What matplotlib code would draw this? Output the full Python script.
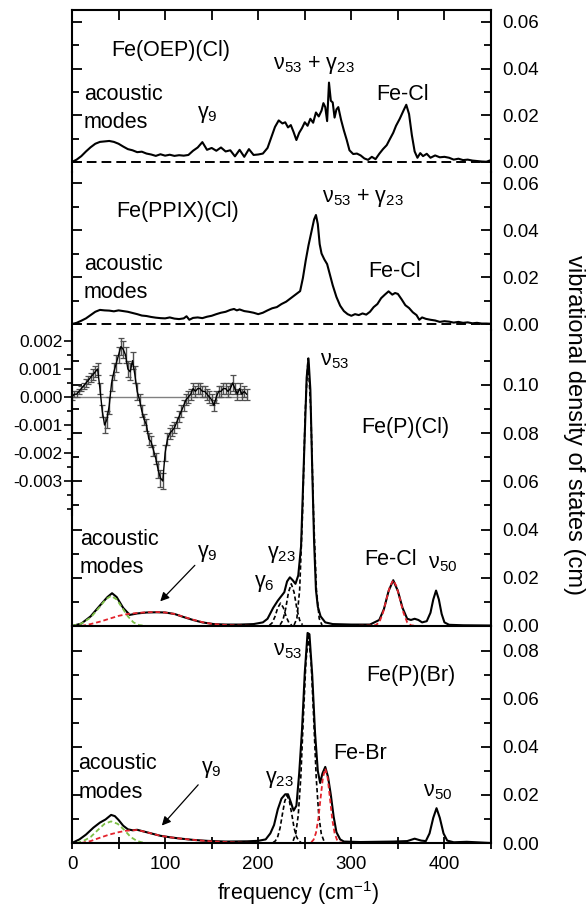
import matplotlib
matplotlib.use("Agg")
import matplotlib.pyplot as plt
from matplotlib.ticker import MultipleLocator, FixedLocator

plt.rcParams['font.family'] = ['Liberation Sans', 'DejaVu Sans']
plt.rcParams['mathtext.fontset'] = 'custom'
plt.rcParams['mathtext.rm'] = 'Liberation Sans'
plt.rcParams['mathtext.it'] = 'Liberation Sans:italic'
plt.rcParams['mathtext.bf'] = 'Liberation Sans:bold'

# ---- Fe(OEP)(Cl) ----
oep_x = [0, 5, 10, 15, 20, 25, 30, 35, 40, 45, 50, 55, 60, 65, 70, 75, 80, 85, 90, 95, 100, 105, 110, 115, 120,
         125, 130, 135, 140, 145, 150, 155, 160, 165, 170, 175, 180, 185, 190, 195, 200, 205, 210, 214, 218, 222,
         226, 229, 232, 235, 238, 241, 244, 247, 250, 253, 256, 259, 262, 265, 268, 270, 272, 274, 276, 278, 280,
         282, 284, 286, 289, 292, 295, 298, 302, 306, 310, 314, 318, 322, 326, 330, 334, 338, 341, 345, 348, 352,
         356, 359, 362, 365, 368, 371, 374, 377, 381, 385, 390, 395, 400, 405, 410, 415, 420, 425, 430, 435, 440,
         445, 450]
oep_y = [0.0, 0.001, 0.0025, 0.0045, 0.0063, 0.0078, 0.0086, 0.0088, 0.009, 0.0086, 0.0078, 0.0066, 0.0055, 0.005,
         0.0042, 0.0044, 0.0036, 0.0032, 0.0026, 0.0033, 0.0027, 0.0031, 0.0026, 0.0029, 0.0027, 0.003, 0.0048,
         0.0062, 0.0085, 0.0052, 0.006, 0.0048, 0.0062, 0.0045, 0.005, 0.0024, 0.0052, 0.0022, 0.0055, 0.003,
         0.0032, 0.0036, 0.006, 0.0105, 0.015, 0.0178, 0.0165, 0.017, 0.0148, 0.0158, 0.0128, 0.0094, 0.0125,
         0.0145, 0.017, 0.0155, 0.0185, 0.0168, 0.0212, 0.0195, 0.022, 0.0252, 0.0235, 0.0175, 0.034, 0.0262,
         0.0255, 0.019, 0.0225, 0.0235, 0.018, 0.0135, 0.0095, 0.005, 0.0034, 0.0036, 0.0028, 0.0015, 0.0009,
         0.0022, 0.0012, 0.0035, 0.0055, 0.0072, 0.0095, 0.0125, 0.0155, 0.0185, 0.022, 0.0245, 0.0205, 0.0115,
         0.0045, 0.0018, 0.0038, 0.0025, 0.0035, 0.0018, 0.0028, 0.002, 0.0022, 0.0018, 0.001, 0.0014, 0.0008,
         0.001, 0.0006, 0.0004, 0.0002, 0.0001, 0.0008]

# ---- Fe(PPIX)(Cl) ----
ppix_x = [0, 5, 10, 15, 20, 25, 30, 35, 40, 45, 50, 55, 60, 65, 70, 75, 80, 85, 90, 95, 100, 105, 110, 115, 120,
          123, 126, 130, 135, 140, 145, 150, 155, 160, 165, 170, 174, 177, 180, 185, 190, 195, 200, 205, 210, 215,
          220, 225, 230, 235, 240, 245, 248, 251, 254, 257, 260, 262, 264, 266, 268, 271, 274, 277, 280, 284, 288,
          292, 296, 300, 304, 308, 312, 316, 320, 324, 328, 332, 336, 340, 344, 347, 350, 354, 358, 362, 366, 370,
          373, 376, 380, 385, 390, 395, 400, 405, 410, 415, 420, 425, 430, 435, 440, 445, 450]
ppix_y = [0.0, 0.0005, 0.0014, 0.0024, 0.0038, 0.0052, 0.006, 0.0058, 0.0057, 0.0054, 0.0058, 0.0055, 0.0052,
          0.0047, 0.0042, 0.0036, 0.0034, 0.003, 0.0027, 0.0025, 0.0024, 0.0028, 0.0023, 0.0021, 0.0024, 0.0033,
          0.0018, 0.0026, 0.0028, 0.0025, 0.0031, 0.0035, 0.0042, 0.0048, 0.0052, 0.006, 0.0064, 0.0058, 0.0062,
          0.0055, 0.0052, 0.0048, 0.0042, 0.0048, 0.0058, 0.0067, 0.0072, 0.0085, 0.0095, 0.011, 0.0125, 0.014,
          0.0196, 0.027, 0.0335, 0.039, 0.0445, 0.0464, 0.0425, 0.034, 0.030, 0.0275, 0.0255, 0.021, 0.0165,
          0.0115, 0.0078, 0.0055, 0.0042, 0.0035, 0.0042, 0.0038, 0.0045, 0.004, 0.0052, 0.0072, 0.0085, 0.011,
          0.0125, 0.0139, 0.0125, 0.0132, 0.0128, 0.0105, 0.008, 0.0068, 0.005, 0.0038, 0.0018, 0.0028, 0.0022,
          0.0018, 0.0015, 0.0009, 0.0012, 0.001, 0.0006, 0.0009, 0.0005, 0.0007, 0.0003, 0.0005, 0.0002, 0.0002,
          0.0001]

# ---- Fe(P)(Cl) ----
pcl_x = [0, 10, 20, 30, 38, 43, 48, 55, 62, 70, 80, 91, 100, 110, 120, 130, 140, 152, 165, 180, 195, 205, 210, 216,
         221, 225, 228, 231, 234, 237, 240, 243, 246, 249, 252, 254, 256, 258, 260, 262, 264, 267, 272, 280, 300, 320,
         330, 335, 340, 345, 350, 355, 360, 364, 368, 372, 376, 381, 385, 388, 391, 394, 397, 400, 405, 420, 450]
pcl_y = [0.0, 0.001, 0.004, 0.0085, 0.012, 0.0136, 0.012, 0.0075, 0.0046, 0.0052, 0.0056, 0.0057, 0.0056, 0.005,
         0.0037, 0.0025, 0.0015, 0.0008, 0.0006, 0.0006, 0.0008, 0.0015, 0.003, 0.0075, 0.0105, 0.0125, 0.014,
         0.0185, 0.0202, 0.019, 0.0175, 0.021, 0.033, 0.068, 0.103, 0.111, 0.098, 0.065, 0.035, 0.015, 0.008,
         0.004, 0.0015, 0.0008, 0.0006, 0.0006, 0.0025, 0.007, 0.0145, 0.019, 0.0145, 0.0075, 0.003, 0.0025,
         0.003, 0.0025, 0.0015, 0.002, 0.0055, 0.011, 0.0147, 0.011, 0.005, 0.0015, 0.0005, 0.0003, 0.0002]
# fitted components
pcl_ac_x = [0, 10, 20, 30, 36, 42, 48, 54, 60, 66, 72, 80]
pcl_ac_y = [0.0, 0.001, 0.0035, 0.008, 0.011, 0.0125, 0.011, 0.0075, 0.004, 0.0015, 0.0004, 0.0]
pcl_g9_x = [10, 20, 30, 40, 50, 60, 70, 80, 91, 100, 110, 120, 130, 140, 150, 165, 180, 200]
pcl_g9_y = [0.0, 0.0008, 0.0018, 0.003, 0.0042, 0.005, 0.0054, 0.0057, 0.0058, 0.0056, 0.005, 0.0038, 0.0026,
            0.0016, 0.0009, 0.0004, 0.0002, 0.0]
pcl_g6_x = [212, 215, 218, 221, 224, 227, 230, 233, 236]
pcl_g6_y = [0.0003, 0.0013, 0.0039, 0.0076, 0.0095, 0.0076, 0.0039, 0.0013, 0.0003]
pcl_g23_x = [223.5, 226.5, 229.5, 232.5, 235.5, 238.5, 241.5, 244.5, 247.5]
pcl_g23_y = [0.0005, 0.0024, 0.0072, 0.014, 0.0175, 0.014, 0.0072, 0.0024, 0.0005]
pcl_n53_x = [238.5, 241.5, 244.5, 247.5, 250.5, 253.5, 256.5, 259.5, 262.5, 265.5, 268.5]
pcl_n53_y = [0.0004, 0.0031, 0.015, 0.0455, 0.089, 0.111, 0.089, 0.0455, 0.015, 0.0031, 0.0004]
pcl_fecl_x = [300, 326, 330, 334, 338, 341.5, 345, 348.5, 352, 356, 360, 364, 370, 450]
pcl_fecl_y = [0.0, 0.0003, 0.0015, 0.0055, 0.0115, 0.0165, 0.019, 0.0165, 0.0115, 0.0055, 0.0015, 0.0003, 0.0, 0.0]

# ---- inset: difference spectrum ----
diff_x = [0, 2.5, 5, 7.5, 10, 12.5, 15, 17.5, 20, 22.5, 25, 27.5, 30, 32.5, 35, 37.5, 40, 42.5, 45, 47.5, 50, 52.5,
          55, 57.5, 60, 62.5, 65, 67.5, 70, 72.5, 75, 77.5, 80, 82.5, 85, 87.5, 90, 92.5, 95, 97.5, 100, 102.5,
          105, 107.5, 110, 112.5, 115, 117.5, 120, 122.5, 125, 127.5, 130, 132.5, 135, 137.5, 140, 142.5, 145,
          147.5, 150, 152.5, 155, 157.5, 160, 162.5, 165, 167.5, 170, 172.5, 175, 177.5, 180, 182.5, 185, 187.5]
diff_y = [0.0, 0.0001, 0.0001, 0.0002, 0.0003, 0.0004, 0.0005, 0.0006, 0.0007, 0.0008, 0.0009, 0.001, 0.0003,
          -0.0005, -0.001, -0.0008, -0.0003, 0.0005, 0.0009, 0.0012, 0.0015, 0.0018, 0.0017, 0.0015, 0.001,
          0.0009, 0.0013, 0.0008, 0.0002, -0.0001, -0.0005, -0.0008, -0.001, -0.0015, -0.0016, -0.0019, -0.0022,
          -0.0026, -0.0029, -0.003, -0.002, -0.0015, -0.0013, -0.0012, -0.0011, -0.0009, -0.0007, -0.0005,
          -0.0003, -0.0001, 0.0, 0.0001, 0.0003, 0.0002, 0.0003, 0.0003, 0.0002, 0.0002, 0.0001, 0.0, -0.0001,
          -0.0003, 0.0, 0.0002, 0.0002, 0.0003, 0.0003, 0.0002, 0.0003, 0.0005, 0.0003, 0.0001, 0.0003, 0.0001,
          0.0002, 0.0001]
diff_err = [0.0001, 0.0001, 0.0001, 0.0001, 0.0001, 0.0001, 0.00015, 0.00015, 0.00015, 0.0002, 0.0002, 0.0002,
            0.0002, 0.0002, 0.0003, 0.0003, 0.0003, 0.0003, 0.0003, 0.0003, 0.0003, 0.0003, 0.0003, 0.0003,
            0.0003, 0.0003, 0.0003, 0.0003, 0.0003, 0.0002, 0.0002, 0.0002, 0.0002, 0.0002, 0.0002, 0.0002,
            0.0002, 0.0003, 0.0003, 0.0003, 0.0003, 0.0002, 0.0002, 0.0002, 0.0002, 0.0002, 0.0002, 0.0002,
            0.0002, 0.0002, 0.0002, 0.0002, 0.0002, 0.0002, 0.0002, 0.0002, 0.0002, 0.0002, 0.0002, 0.0002,
            0.0002, 0.0002, 0.0002, 0.0002, 0.0002, 0.0002, 0.0002, 0.0002, 0.0002, 0.0003, 0.0002, 0.0002,
            0.0002, 0.0002, 0.0002, 0.0002]

# ---- Fe(P)(Br) ----
pbr_x = [0, 8, 15, 23, 30, 36, 42, 46, 50, 55, 60, 65, 70, 75, 80, 88, 95, 105, 115, 130, 145, 165, 188, 200, 208,
         213, 217, 221, 225, 229, 232, 235, 238, 241, 244, 247, 250, 253, 255, 258, 261, 264, 266.5, 269, 272,
         275, 278, 281, 284, 288, 292, 310, 345, 360, 368, 375, 380, 384, 388, 391.5, 395, 399, 403, 410, 424, 450]
pbr_y = [0.0, 0.0015, 0.0035, 0.0064, 0.0085, 0.0098, 0.0117, 0.0112, 0.0096, 0.0072, 0.0057, 0.0053, 0.0055,
         0.005, 0.0045, 0.0037, 0.003, 0.0024, 0.0019, 0.0013, 0.0009, 0.0006, 0.0007, 0.0009, 0.0015, 0.004,
         0.0075, 0.014, 0.0185, 0.0203, 0.0203, 0.017, 0.0135, 0.0155, 0.029, 0.047, 0.071, 0.0875, 0.087, 0.07,
         0.046, 0.03, 0.025, 0.029, 0.0317, 0.0275, 0.02, 0.011, 0.0045, 0.0015, 0.0006, 0.0004, 0.0006, 0.0008,
         0.0018, 0.001, 0.0008, 0.004, 0.0105, 0.0145, 0.0105, 0.004, 0.001, 0.0003, 0.0005, 0.0]
pbr_ac_x = [5, 12, 20, 28, 35, 42, 49, 56, 63, 70, 78]
pbr_ac_y = [0.0, 0.0008, 0.0025, 0.0055, 0.008, 0.009, 0.008, 0.0055, 0.0025, 0.0008, 0.0]
pbr_g9_x = [10, 20, 30, 40, 50, 58, 65, 70, 75, 80, 88, 95, 105, 115, 130, 145, 165, 185, 200]
pbr_g9_y = [0.0, 0.0008, 0.0022, 0.0035, 0.0045, 0.0051, 0.0053, 0.0054, 0.005, 0.0045, 0.0037, 0.003, 0.0024,
            0.0019, 0.0013, 0.0008, 0.0004, 0.0001, 0.0]
pbr_g23_x = [216, 218.5, 221, 223.5, 226, 228.5, 231, 233.5, 236, 238.5, 241, 243.5, 246]
pbr_g23_y = [0.0002, 0.0009, 0.0027, 0.0063, 0.0121, 0.0174, 0.0198, 0.0174, 0.0121, 0.0063, 0.0027, 0.0009, 0.0002]
pbr_n53_x = [237.5, 240.25, 243, 245.75, 248.5, 251.25, 254, 256.75, 259.5, 262.25, 265, 267.75, 270.5]
pbr_n53_y = [0.0009, 0.0038, 0.0116, 0.0275, 0.0525, 0.0757, 0.086, 0.0757, 0.0525, 0.0275, 0.0116, 0.0038, 0.0009]
pbr_febr_x = [257, 259.5, 262, 264.5, 267, 269.5, 272, 274.5, 277, 279.5, 282, 284.5, 287, 292, 450]
pbr_febr_y = [0.0003, 0.0014, 0.0042, 0.0099, 0.0188, 0.0273, 0.031, 0.0273, 0.0188, 0.0099, 0.0042, 0.0014,
              0.0003, 0.0, 0.0]

RED = '#e3232c'
GREEN = '#7cbf45'
LW = 1.5
FS = 15.5
TFS = 13.5

fig = plt.figure(figsize=(5.87, 9.06), dpi=100)
L = 72 / 587
W = (491 - 72) / 587


def pos(top, bot):
    return [L, 1 - bot / 906, W, (bot - top) / 906]


def style(ax, major, minor, show_top=False, show_bottom=False):
    ax.set_xlim(0, 450)
    for s in ax.spines.values():
        s.set_linewidth(1.5)
    ax.spines['top'].set_visible(show_top)
    ax.spines['bottom'].set_visible(show_bottom)
    ax.yaxis.set_major_locator(FixedLocator(major))
    ax.yaxis.set_minor_locator(FixedLocator(minor))
    ax.yaxis.set_major_formatter(matplotlib.ticker.FuncFormatter(lambda v, p: '%.2f' % v))
    ax.tick_params(axis='y', which='both', direction='in', left=True, right=True,
                   labelleft=False, labelright=True, width=1.3, labelsize=TFS, pad=8)
    ax.tick_params(axis='y', which='major', length=7)
    ax.tick_params(axis='y', which='minor', length=5)
    ax.tick_params(axis='x', which='both', bottom=False, top=False, labelbottom=False)
    ax.patch.set_alpha(0)


ax1 = fig.add_axes(pos(10, 172))
ax2 = fig.add_axes(pos(172, 330))
ax3 = fig.add_axes(pos(330, 626))
ax4 = fig.add_axes(pos(626, 843))

style(ax1, [0, 0.02, 0.04, 0.06], [0.01, 0.03, 0.05], show_top=True)
ax1.set_ylim(-0.0043, 0.0651)
ax1.xaxis.set_major_locator(MultipleLocator(50))
ax1.tick_params(axis='x', which='major', top=True, direction='in', length=7, width=1.3)

style(ax2, [0, 0.02, 0.04, 0.06], [0.01, 0.03, 0.05])
ax2.set_ylim(-0.00255, 0.0647)

style(ax3, [0, 0.02, 0.04, 0.06, 0.08, 0.10], [0.01, 0.03, 0.05, 0.07, 0.09, 0.11], show_bottom=True)
ax3.set_ylim(0, 0.1228)

style(ax4, [0, 0.02, 0.04, 0.06, 0.08], [0.01, 0.03, 0.05, 0.07], show_bottom=True)
ax4.set_ylim(0, 0.0904)
ax4.xaxis.set_major_locator(MultipleLocator(100))
ax4.xaxis.set_minor_locator(MultipleLocator(50))
ax4.tick_params(axis='x', which='both', bottom=True, labelbottom=True, direction='inout',
                length=9, width=1.3, labelsize=TFS, pad=5)

dash_big = (5, 2.6)
for ax, x, y in [(ax1, oep_x, oep_y), (ax2, ppix_x, ppix_y)]:
    ax.plot([0, 450], [0, 0], color='k', lw=1.4, dashes=dash_big)
    ax.plot(x, y, color='k', lw=LW)

# Fe(P)(Cl) fit components
dsh = (2.6, 1.6)
ax3.plot([0, 450], [0, 0], color='k', lw=1.2, dashes=dsh)
ax3.plot(pcl_g6_x, pcl_g6_y, color='k', lw=1.2, dashes=dsh)
ax3.plot(pcl_g23_x, pcl_g23_y, color='k', lw=1.2, dashes=dsh)
ax3.plot(pcl_n53_x, pcl_n53_y, color='k', lw=1.2, dashes=dsh)
ax3.plot(pcl_x, pcl_y, color='k', lw=LW)
ax3.plot(pcl_ac_x, pcl_ac_y, color=GREEN, lw=1.3, dashes=dsh)
ax3.plot(pcl_g9_x, pcl_g9_y, color=RED, lw=1.3, dashes=dsh)
ax3.plot(pcl_fecl_x, pcl_fecl_y, color=RED, lw=1.3, dashes=dsh)

# Fe(P)(Br) fit components
ax4.plot(pbr_g23_x, pbr_g23_y, color='k', lw=1.2, dashes=dsh)
ax4.plot(pbr_n53_x, pbr_n53_y, color='k', lw=1.2, dashes=dsh)
ax4.plot(pbr_x, pbr_y, color='k', lw=LW)
ax4.plot(pbr_ac_x, pbr_ac_y, color=GREEN, lw=1.3, dashes=dsh)
ax4.plot(pbr_g9_x, pbr_g9_y, color=RED, lw=1.3, dashes=dsh)
ax4.plot(pbr_febr_x, pbr_febr_y, color=RED, lw=1.3, dashes=dsh)

# inset
axi = fig.add_axes(pos(397 - 0.0024 * 28000, 397 + 0.0042 * 28000))
axi.patch.set_alpha(0)
axi.set_xlim(0, 450)
axi.set_ylim(-0.0042, 0.0024)
for s in ['top', 'bottom', 'right']:
    axi.spines[s].set_visible(False)
axi.spines['left'].set_linewidth(1.5)
axi.xaxis.set_visible(False)
axi.yaxis.set_major_locator(FixedLocator([-0.003, -0.002, -0.001, 0.0, 0.001, 0.002]))
axi.yaxis.set_minor_locator(MultipleLocator(0.0005))
axi.yaxis.set_major_formatter(matplotlib.ticker.FuncFormatter(lambda v, p: '%.3f' % v))
axi.tick_params(axis='y', which='both', direction='out', width=1.2, labelsize=12.5, pad=1)
axi.tick_params(axis='y', which='major', length=6)
axi.tick_params(axis='y', which='minor', length=3.5)
axi.plot([diff_x[0], diff_x[-1]], [0, 0], color='#808080', lw=1.0)
axi.errorbar(diff_x, diff_y, yerr=diff_err, color='k', lw=1.0, ecolor='#505050',
             elinewidth=1.0, capsize=2, capthick=0.9)

# labels
def lab(ax, x, y, s, **kw):
    ax.text(x, y, s, fontsize=FS, ha='left', va='baseline', **kw)

lab(ax1, 42.6, 0.0455, 'Fe(OEP)(Cl)')
lab(ax1, 216, 0.040, 'ν$_{53}$ + γ$_{23}$')
lab(ax1, 327, 0.0266, 'Fe-Cl')
lab(ax1, 12.9, 0.0266, 'acoustic')
lab(ax1, 12.9, 0.0144, 'modes')
lab(ax1, 134, 0.0187, 'γ$_{9}$')

lab(ax2, 48, 0.0457, 'Fe(PPIX)(Cl)')
lab(ax2, 268, 0.052, 'ν$_{53}$ + γ$_{23}$')
lab(ax2, 318, 0.0201, 'Fe-Cl')
lab(ax2, 12.9, 0.023, 'acoustic')
lab(ax2, 12.9, 0.0109, 'modes')

lab(ax3, 266, 0.1083, 'ν$_{53}$')
lab(ax3, 311, 0.080, 'Fe(P)(Cl)')
lab(ax3, 8.6, 0.0336, 'acoustic')
lab(ax3, 8.6, 0.0219, 'modes')
lab(ax3, 134, 0.0288, 'γ$_{9}$')
lab(ax3, 209, 0.0281, 'γ$_{23}$')
lab(ax3, 195, 0.0163, 'γ$_{6}$')
lab(ax3, 313.6, 0.0253, 'Fe-Cl')
lab(ax3, 382.7, 0.024, 'ν$_{50}$')
ax3.annotate('', xy=(92.7, 0.0094), xytext=(134, 0.026),
             arrowprops=dict(arrowstyle='-|>', color='k', lw=0.9, mutation_scale=13))

lab(ax4, 216, 0.078, 'ν$_{53}$')
lab(ax4, 316.5, 0.0675, 'Fe(P)(Br)')
lab(ax4, 280.7, 0.0349, 'Fe-Br')
lab(ax4, 6.8, 0.0307, 'acoustic')
lab(ax4, 6.8, 0.0189, 'modes')
lab(ax4, 139, 0.0293, 'γ$_{9}$')
lab(ax4, 207, 0.0251, 'γ$_{23}$')
lab(ax4, 377, 0.0196, 'ν$_{50}$')
ax4.annotate('', xy=(94.5, 0.0064), xytext=(137.5, 0.0251),
             arrowprops=dict(arrowstyle='-|>', color='k', lw=0.9, mutation_scale=13))

fig.text(217 / 587, 1 - 900 / 906, 'frequency (cm$^{-1}$)', fontsize=FS, ha='left', va='baseline')
fig.text(574 / 587, 1 - 425 / 906, 'vibrational density of states (cm)', rotation=270,
         fontsize=17, ha='center', va='center')

fig.savefig('out.png', dpi=100)
